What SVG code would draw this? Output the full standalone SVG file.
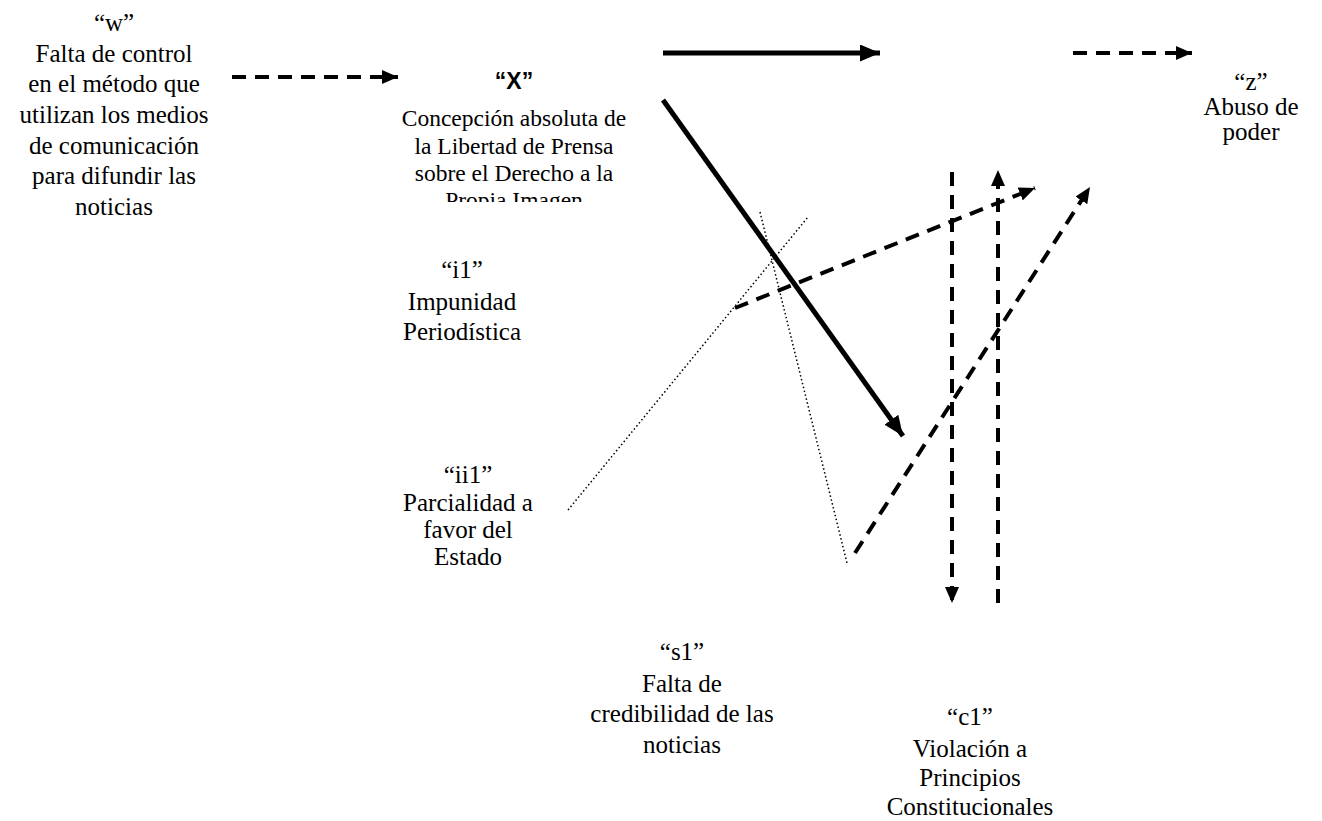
<svg xmlns="http://www.w3.org/2000/svg" width="1322" height="821" viewBox="0 0 1322 821">
<style>
.t{font-family:"Liberation Serif","Times New Roman",serif;font-size:25px;fill:#000;text-anchor:middle}
.s{font-size:23.5px}
.b{font-family:"Liberation Sans",Arial,sans-serif;font-size:23px;font-weight:bold;fill:#000;text-anchor:middle}
.solid{stroke:#000;stroke-width:5;fill:none}
.dash{stroke:#000;stroke-width:4;fill:none;stroke-dasharray:14 9}
.dot{stroke:#000;stroke-width:1.5;fill:none;stroke-dasharray:1.5 2.5}
</style>
<defs>
<marker id="ah" markerUnits="userSpaceOnUse" markerWidth="22" markerHeight="17" refX="20" refY="8.5" orient="auto">
<path d="M0,0 L20,8.5 L0,17 z" fill="#000"/>
</marker>
<marker id="ahd" markerUnits="userSpaceOnUse" markerWidth="18" markerHeight="14" refX="16" refY="7" orient="auto">
<path d="M0,0 L16,7 L0,14 z" fill="#000"/>
</marker>
<clipPath id="clipX"><rect x="380" y="60" width="270" height="142"/></clipPath>
</defs>
<g id="node-w">
<text class="t" x="114" y="31">“w”</text>
<text class="t" x="114" y="62">Falta de control</text>
<text class="t" x="114" y="92">en el método que</text>
<text class="t" x="114" y="123">utilizan los medios</text>
<text class="t" x="114" y="154">de comunicación</text>
<text class="t" x="114" y="184">para difundir las</text>
<text class="t" x="114" y="215">noticias</text>
</g>
<g id="node-x" clip-path="url(#clipX)">
<text class="b" x="514" y="89">“X”</text>
<text class="t s" x="514" y="126">Concepción absoluta de</text>
<text class="t s" x="514" y="154">la Libertad de Prensa</text>
<text class="t s" x="514" y="181">sobre el Derecho a la</text>
<text class="t s" x="514" y="208">Propia Imagen</text>
</g>
<g id="node-z">
<text class="t" x="1251" y="90">“z”</text>
<text class="t" x="1251" y="115">Abuso de</text>
<text class="t" x="1251" y="140">poder</text>
</g>
<g id="node-i1">
<text class="t" x="462" y="278">“i1”</text>
<text class="t" x="462" y="310">Impunidad</text>
<text class="t" x="462" y="340">Periodística</text>
</g>
<g id="node-ii1">
<text class="t" x="468" y="483">“ii1”</text>
<text class="t" x="468" y="511">Parcialidad a</text>
<text class="t" x="468" y="538">favor del</text>
<text class="t" x="468" y="565">Estado</text>
</g>
<g id="node-s1">
<text class="t" x="682" y="660">“s1”</text>
<text class="t" x="682" y="692">Falta de</text>
<text class="t" x="682" y="722">credibilidad de las</text>
<text class="t" x="682" y="753">noticias</text>
</g>
<g id="node-c1">
<text class="t" x="970" y="725">“c1”</text>
<text class="t" x="970" y="757">Violación a</text>
<text class="t" x="970" y="786">Principios</text>
<text class="t" x="970" y="815">Constitucionales</text>
</g>
<g id="connectors">
<path class="dash" d="M232,77 L398,77" marker-end="url(#ahd)"/>
<path class="solid" d="M663,53 L880,53" marker-end="url(#ah)"/>
<path class="dash" d="M1073,53 L1192,53" marker-end="url(#ahd)"/>
<path class="solid" d="M663,100 L903,436" marker-end="url(#ah)"/>
<path class="dot" d="M568,510 L808,217"/>
<path class="dot" d="M760,212 L847,563"/>
<path class="dash" d="M735,308 L1035,188" marker-end="url(#ahd)"/>
<path class="dash" d="M855,553 L1090,187" marker-end="url(#ahd)"/>
<path class="dash" d="M952,172 L952,603" marker-end="url(#ahd)"/>
<path class="dash" d="M998,603 L998,170" marker-end="url(#ahd)"/>
</g>
</svg>
